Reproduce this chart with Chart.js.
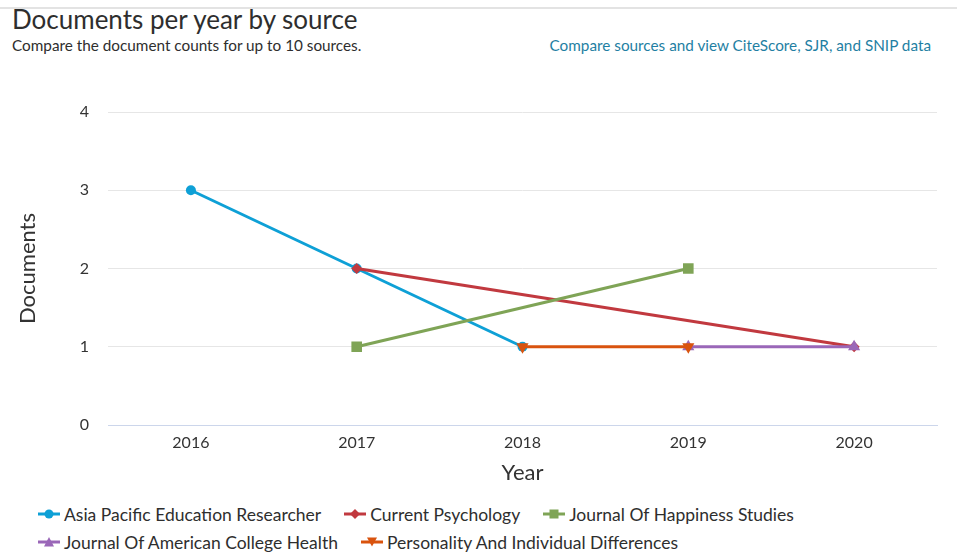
<!DOCTYPE html>
<html>
<head>
<meta charset="utf-8">
<script src="https://cdn.jsdelivr.net/npm/chart.js@4/dist/chart.umd.min.js"></script>
<style>
  html, body { margin:0; padding:0; background:#fff; width:957px; height:556px; overflow:hidden; font-family: Lato, "Open Sans", sans-serif; }
  #topline { position:absolute; left:0; top:7px; width:957px; height:2px; background:#e3e3e3; }
  #title { position:absolute; left:12px; top:3px; font-size:26px; color:#2e2e2e; white-space:nowrap; }
  #subtitle { position:absolute; left:12px; top:36px; font-size:15.3px; color:#2e2e2e; white-space:nowrap; }
  #link { position:absolute; right:26px; top:36px; font-size:15.3px; color:#1f7fa3; white-space:nowrap; }
  #wrap { position:absolute; left:0; top:0; width:957px; height:495px; }
  #legend { position:absolute; left:38px; top:503px; width:800px; display:flex; flex-wrap:wrap; column-gap:23px; row-gap:6px; }
  .li { display:flex; align-items:center; font-size:17.5px; color:#2e2e2e; white-space:nowrap; height:22px; }
  .li svg { margin-right:4px; }
</style>
</head>
<body>
<div id="topline"></div>
<div id="title">Documents per year by source</div>
<div id="subtitle">Compare the document counts for up to 10 sources.</div>
<div id="link">Compare sources and view CiteScore, SJR, and SNIP data</div>
<div id="wrap"><canvas id="c"></canvas></div>
<div id="legend"></div>
<script>
const years = ["2016", "2017", "2018", "2019", "2020"];
const yTicks = [0, 1, 2, 3, 4];
const seriesNames = [
  "Asia Pacific Education Researcher",
  "Current Psychology",
  "Journal Of Happiness Studies",
  "Journal Of American College Health",
  "Personality And Individual Differences"
];
const asiaPacific   = [3, 2, 1, null, null];
const currentPsych  = [null, 2, null, null, 1];
const happiness     = [null, 1, null, 2, null];
const americanCollege = [null, null, null, 1, 1];
const personality   = [null, null, 1, 1, null];

const colors = ["#0ea0d6", "#c1393f", "#7fa456", "#9a67b8", "#d9530e"];
const styles = ["circle", "rectRot", "rect", "triangle", "triangle"];
const rotations = [0, 0, 0, 0, 180];
const radii = [5, 5.5, 7.5, 7, 7];
const values = [asiaPacific, currentPsych, happiness, americanCollege, personality];

const datasets = values.map((v, i) => ({
  label: seriesNames[i],
  data: v,
  borderColor: colors[i],
  backgroundColor: colors[i],
  borderWidth: 3,
  pointStyle: styles[i],
  pointRotation: rotations[i],
  pointRadius: radii[i],
  pointBorderWidth: 0,
  pointHoverRadius: radii[i],
  spanGaps: true,
  tension: 0,
  order: values.length - i
}));

new Chart(document.getElementById('c'), {
  type: 'line',
  data: { labels: years, datasets },
  options: {
    responsive: true,
    maintainAspectRatio: false,
    animation: false,
    layout: { padding: { left: 15, right: 20, top: 112, bottom: 0 } },
    plugins: { legend: { display: false }, tooltip: { enabled: false } },
    scales: {
      x: {
        offset: true,
        grid: { display: false, drawTicks: false },
        border: { display: true, color: "#ccd6eb", width: 1 },
        ticks: { color: "#333", font: { family: "Lato", size: 16 }, padding: 8 },
        title: { display: true, text: "Year", color: "#333", font: { family: "Lato", size: 22 }, padding: { top: 4, bottom: 9 } },
        afterFit: s => { s.height = 70; }
      },
      y: {
        min: 0, max: 4,
        afterBuildTicks: s => { s.ticks = yTicks.map(v => ({ value: v })); },
        grid: { color: "#e6e6e6", drawTicks: false, lineWidth: 1 },
        border: { display: false },
        ticks: { color: "#333", font: { family: "Lato", size: 16 }, padding: 19 },
        title: { display: true, text: "Documents", color: "#333", font: { family: "Lato", size: 22 }, padding: 0 },
        afterFit: s => { s.width = 93; }
      }
    }
  }
});

// HTML legend
const lg = document.getElementById('legend');
seriesNames.forEach((name, i) => {
  const d = document.createElement('div');
  d.className = 'li';
  let marker = '';
  const c = colors[i];
  if (styles[i] === 'circle') marker = `<circle cx="11" cy="8" r="4.5" fill="${c}"/>`;
  else if (styles[i] === 'rectRot') marker = `<polygon points="11,3 16,8 11,13 6,8" fill="${c}"/>`;
  else if (styles[i] === 'rect') marker = `<rect x="6.5" y="3.5" width="9" height="9" fill="${c}"/>`;
  else if (rotations[i] === 180) marker = `<polygon points="6,3.5 16,3.5 11,12.5" fill="${c}"/>`;
  else marker = `<polygon points="11,3 16,12.5 6,12.5" fill="${c}"/>`;
  d.innerHTML = `<svg width="22" height="16"><line x1="0" y1="8" x2="22" y2="8" stroke="${c}" stroke-width="3"/>${marker}</svg><span>${name}</span>`;
  lg.appendChild(d);
});
</script>
</body>
</html>
